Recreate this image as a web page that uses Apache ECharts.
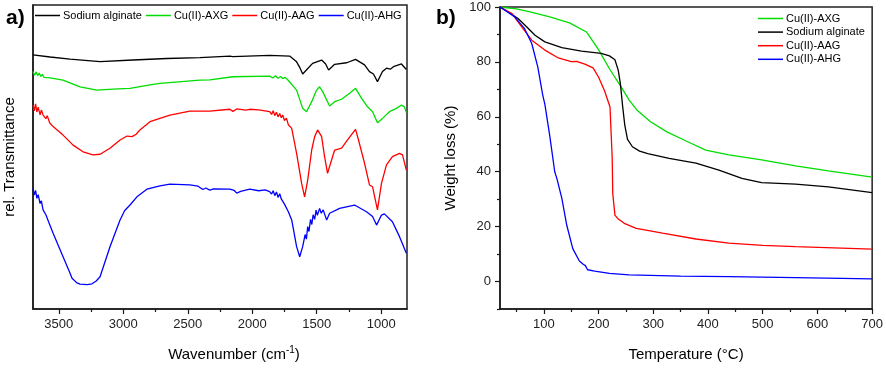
<!DOCTYPE html>
<html>
<head>
<meta charset="utf-8">
<script src="https://cdn.jsdelivr.net/npm/echarts@6/dist/echarts.min.js"></script>
<style>
  html, body { margin: 0; padding: 0; background: #fff; }
  #main { width: 886px; height: 369px; }
</style>
</head>
<body>
<div id="main"></div>
<script>
// series names
var nameAlg = 'Sodium alginate';
var nameAXG = 'Cu(II)-AXG';
var nameAAG = 'Cu(II)-AAG';
var nameAHG = 'Cu(II)-AHG';

// a) FTIR, [wavenumber cm-1, rel. transmittance (a.u.)]
var ftirAlginate = [
  [3700, 83.6], [3567, 82.9], [3413, 82.2], [3180, 81.4], [2925, 81.9], [2662, 82.4],
  [2406, 82.7], [2174, 83.2], [2151, 83.0], [1865, 83.4], [1710, 83.2], [1656, 81.3],
  [1632, 79.5], [1609, 77.3], [1580, 78.6], [1532, 80.8], [1462, 81.9], [1431, 80.6],
  [1408, 78.6], [1361, 80.5], [1268, 81.0], [1199, 82.1], [1129, 80.3], [1091, 78.1],
  [1060, 77.3], [1029, 74.8], [990, 78.1], [959, 79.2], [930, 78.9], [905, 79.7],
  [843, 80.6], [805, 78.8]
];
var ftirAXG = [
  [3700, 78.1], [3688, 76.9], [3676, 78.0], [3664, 76.8], [3652, 77.6], [3640, 76.5],
  [3628, 77.2], [3615, 76.2], [3600, 76.6], [3567, 76.0], [3467, 75.3], [3335, 73.1],
  [3204, 72.0], [3080, 72.3], [2948, 72.6], [2793, 73.7], [2716, 74.2], [2406, 75.3],
  [2329, 75.4], [2151, 76.4], [1865, 76.6], [1840, 76.0], [1820, 76.7], [1800, 75.9],
  [1780, 76.5], [1764, 75.8], [1745, 76.2], [1725, 75.4], [1710, 75.6], [1656, 72.0],
  [1609, 66.0], [1579, 64.9], [1539, 68.2], [1501, 72.0], [1478, 73.1], [1454, 71.5],
  [1400, 66.8], [1361, 68.2], [1307, 69.0], [1245, 71.0], [1199, 72.6], [1152, 69.3],
  [1106, 66.5], [1067, 64.9], [1029, 61.3], [990, 62.7], [936, 64.9], [882, 66.0],
  [843, 67.1], [820, 66.5], [805, 64.6]
];
var ftirAAG = [
  [3700, 67.1], [3690, 65.2], [3680, 67.5], [3670, 64.8], [3660, 66.4], [3645, 63.9],
  [3635, 65.5], [3622, 63.8], [3600, 62.6], [3590, 63.6], [3570, 61.2], [3544, 60.0],
  [3467, 57.2], [3389, 53.9], [3312, 51.7], [3235, 50.7], [3180, 50.9], [3103, 52.9],
  [3025, 55.6], [2971, 56.9], [2932, 56.7], [2900, 57.5], [2871, 58.9], [2793, 61.6],
  [2716, 62.7], [2638, 63.8], [2484, 65.1], [2329, 65.1], [2174, 65.7], [2150, 65.0],
  [2120, 65.8], [2050, 65.4], [2019, 65.7], [1950, 65.5], [1865, 64.9], [1850, 64.0],
  [1838, 65.2], [1825, 63.6], [1812, 64.7], [1800, 63.2], [1787, 64.3], [1775, 62.9],
  [1764, 63.8], [1750, 62.0], [1735, 62.8], [1720, 60.6], [1694, 59.4], [1656, 51.2],
  [1617, 41.3], [1594, 36.9], [1570, 42.4], [1539, 52.3], [1516, 56.7], [1493, 58.9],
  [1462, 56.7], [1439, 50.1], [1416, 44.6], [1385, 49.0], [1361, 52.3], [1307, 52.9],
  [1261, 55.6], [1199, 59.1], [1176, 55.6], [1129, 47.9], [1091, 40.8], [1067, 40.2],
  [1029, 32.6], [998, 41.3], [959, 47.4], [913, 50.1], [858, 51.2], [835, 50.7],
  [805, 45.7]
];
var ftirAHG = [
  [3700, 39.7], [3690, 37.5], [3680, 39.0], [3670, 36.4], [3660, 37.6], [3645, 34.7],
  [3635, 35.6], [3622, 32.6], [3600, 31.0], [3580, 28.8], [3544, 24.9], [3467, 17.2],
  [3420, 12.5], [3397, 10.1], [3360, 8.6], [3335, 8.2], [3280, 8.0], [3242, 8.3],
  [3210, 9.2], [3180, 10.6], [3103, 20.5], [3025, 29.3], [2990, 32.3], [2948, 34.2],
  [2894, 36.9], [2817, 39.4], [2716, 40.5], [2638, 41.1], [2484, 40.8],
  [2420, 40.4], [2383, 39.3], [2360, 39.8], [2329, 39.1], [2300, 39.5], [2174, 39.4],
  [2140, 39.0], [2120, 38.1], [2090, 38.7], [2019, 39.4], [1950, 38.9], [1900, 39.2],
  [1865, 38.6], [1850, 37.8], [1838, 38.9], [1825, 37.3], [1812, 38.5], [1800, 36.7],
  [1787, 37.9], [1775, 36.2], [1764, 35.9], [1750, 34.5], [1735, 35.1], [1720, 32.0],
  [1694, 29.3], [1656, 20.5], [1632, 17.2], [1609, 20.5], [1590, 24.5], [1580, 23.0],
  [1570, 27.1], [1560, 25.5], [1548, 29.5], [1538, 27.8], [1528, 31.0], [1516, 29.5],
  [1505, 32.5], [1495, 30.8], [1478, 33.1], [1465, 31.5], [1450, 32.6], [1423, 29.3],
  [1400, 31.5], [1385, 32.0], [1323, 33.1], [1207, 34.2], [1114, 32.0], [1067, 30.4],
  [1036, 27.6], [998, 30.9], [975, 31.3], [913, 28.7], [858, 23.8], [805, 18.3]
];

// b) TGA, [temperature °C, weight %]
var tgaAXG = [
  [20, 100], [50, 99.3], [75, 98.2], [111, 96.4], [147, 94.2], [178, 90.9], [200, 84.5],
  [220, 77.5], [241, 71.0], [256, 66.1], [270, 62.5], [295, 58.2], [325, 54.5],
  [360, 51.2], [396, 47.9], [438, 46.1], [498, 44.3], [560, 42.1], [620, 40.3], [700, 38.0]
];
var tgaAlginate = [
  [20, 100], [35, 98.2], [53, 95.8], [69, 92.7], [84, 89.7], [102, 87.3], [133, 85.2],
  [169, 83.9], [205, 83.1], [220, 82.2], [230, 80.8], [236, 77.0], [240, 72.0],
  [244, 64.0], [248, 57.0], [253, 51.8], [262, 49.1], [275, 47.5], [290, 46.6],
  [329, 44.9], [378, 43.1], [420, 40.6], [462, 37.6], [498, 36.0], [560, 35.5],
  [620, 34.5], [700, 32.4]
];
var tgaAAG = [
  [20, 100], [42, 97.6], [60, 92.7], [78, 87.9], [102, 84.3], [125, 81.6], [150, 80.1],
  [160, 80.2], [175, 79.2], [190, 77.8], [200, 74.5], [211, 69.5], [221, 63.6],
  [224, 63.0], [225, 45.0], [226, 32.1], [229, 31.5], [230, 24.2], [235, 23.0],
  [247, 21.2], [269, 19.4], [317, 17.6], [378, 15.5], [438, 14.0], [500, 13.2],
  [560, 12.7], [700, 11.8]
];
var tgaAHG = [
  [20, 100], [47, 96.4], [65, 92.1], [78, 86.7], [89, 78.2], [98, 68.0], [102, 64.5],
  [111, 53.0], [120, 40.0], [124, 37.5], [133, 30.3], [142, 20.5], [153, 12.0],
  [165, 7.5], [172, 6.3], [176, 5.8], [180, 4.3], [193, 3.8], [220, 3.0], [256, 2.4],
  [350, 2.0], [438, 1.8], [560, 1.4], [700, 1.0]
];

// tick values
var wnLabels = [3500, 3000, 2500, 2000, 1500, 1000];
var wnMinor = [3250, 2750, 2250, 1750, 1250];
var tempLabels = [100, 200, 300, 400, 500, 600, 700];
var tempMinor = [50, 150, 250, 350, 450, 550, 650];
var wlLabels = [0, 20, 40, 60, 80, 100];
var wlMinor = [-10, 10, 30, 50, 70, 90];

var colorMap = {};
colorMap[nameAlg] = '#000000';
colorMap[nameAXG] = '#00dd00';
colorMap[nameAAG] = '#ff0000';
colorMap[nameAHG] = '#0000ff';

var fontFamily = '"Liberation Sans", Arial, sans-serif';
var axisColor = '#1a1a1a';

function lineSeries(name, data, xi, yi) {
  return {
    name: name,
    type: 'line',
    data: data,
    xAxisIndex: xi,
    yAxisIndex: yi,
    symbol: 'none',
    showSymbol: false,
    smooth: false,
    lineStyle: { color: colorMap[name], width: 1.3 },
    itemStyle: { color: colorMap[name] }
  };
}

function plain(v) {
  return String(v);
}

var legendText = { fontSize: 11, color: '#000', fontFamily: fontFamily, padding: [0, 0, 0, -2] };

var myChart = echarts.init(document.getElementById('main'), null, {
  renderer: 'canvas'
});

var option = {
  animation: false,
  backgroundColor: '#ffffff',
  textStyle: { fontFamily: fontFamily },
  title: [
    { text: 'a)', left: 1, top: 3, textStyle: { fontSize: 21, fontWeight: 'bold', color: '#000', fontFamily: fontFamily } },
    { text: 'b)', left: 431, top: 3, textStyle: { fontSize: 21, fontWeight: 'bold', color: '#000', fontFamily: fontFamily } }
  ],
  legend: [
    {
      data: [nameAlg, nameAXG, nameAAG, nameAHG],
      left: 35, top: 10, padding: 0,
      orient: 'horizontal',
      icon: 'rect',
      itemWidth: 25, itemHeight: 1.5, itemGap: 4,
      textStyle: legendText
    },
    {
      data: [nameAXG, nameAlg, nameAAG, nameAHG],
      left: 758, top: 13, padding: 0,
      orient: 'vertical',
      icon: 'rect',
      itemWidth: 25, itemHeight: 1.5, itemGap: 2.6,
      textStyle: legendText
    }
  ],
  grid: [
    { left: 33, top: 5, width: 374, height: 304, show: true, borderColor: '#222', borderWidth: 1.5, containLabel: false },
    { left: 500, top: 7, width: 374, height: 302, show: true, borderColor: '#222', borderWidth: 1.5, containLabel: false }
  ],
  xAxis: [
    {
      gridIndex: 0, type: 'value', inverse: true, min: 800, max: 3700, position: 'bottom',
      name: 'Wavenumber (cm{sup|-1})', nameLocation: 'middle', nameGap: 36,
      nameTextStyle: {
        fontSize: 15, color: '#000', fontFamily: fontFamily, padding: [0, 0, 0, 28],
        rich: { sup: { fontSize: 10, verticalAlign: 'top', padding: [0, 0, 10, 0], fontFamily: fontFamily, color: '#000' } }
      },
      splitLine: { show: false },
      axisLine: { show: true, onZero: false, lineStyle: { color: axisColor, width: 1.5 } },
      axisTick: { show: true, inside: false, length: 5, customValues: wnLabels, lineStyle: { color: axisColor, width: 1.2 } },
      axisLabel: { show: true, customValues: wnLabels, formatter: plain, margin: 9, fontSize: 13, color: '#222', fontFamily: fontFamily }
    },
    {
      gridIndex: 0, type: 'value', inverse: true, min: 800, max: 3700, position: 'bottom', offset: 0,
      splitLine: { show: false },
      axisLine: { show: false, onZero: false },
      axisTick: { show: true, inside: false, length: 3, customValues: wnMinor, lineStyle: { color: axisColor, width: 1.2 } },
      axisLabel: { show: false }
    },
    {
      gridIndex: 1, type: 'value', min: 20, max: 700, position: 'bottom',
      name: 'Temperature (°C)', nameLocation: 'middle', nameGap: 38,
      nameTextStyle: { fontSize: 15, color: '#000', fontFamily: fontFamily },
      splitLine: { show: false },
      axisLine: { show: true, onZero: false, lineStyle: { color: axisColor, width: 1.5 } },
      axisTick: { show: true, inside: false, length: 5, customValues: tempLabels, lineStyle: { color: axisColor, width: 1.2 } },
      axisLabel: { show: true, customValues: tempLabels, formatter: plain, margin: 9, fontSize: 13, color: '#222', fontFamily: fontFamily }
    },
    {
      gridIndex: 1, type: 'value', min: 20, max: 700, position: 'bottom', offset: 0,
      splitLine: { show: false },
      axisLine: { show: false, onZero: false },
      axisTick: { show: true, inside: false, length: 3, customValues: tempMinor, lineStyle: { color: axisColor, width: 1.2 } },
      axisLabel: { show: false }
    }
  ],
  yAxis: [
    {
      gridIndex: 0, type: 'value', min: 0, max: 100,
      name: 'rel. Transmittance', nameLocation: 'middle', nameGap: 16,
      nameTextStyle: { fontSize: 15, color: '#000', fontFamily: fontFamily },
      splitLine: { show: false },
      axisLine: { show: true, onZero: false, lineStyle: { color: axisColor, width: 1.5 } },
      axisTick: { show: false },
      axisLabel: { show: false }
    },
    {
      gridIndex: 1, type: 'value', min: -10, max: 100, position: 'left',
      name: 'Weight loss (%)', nameLocation: 'middle', nameGap: 42,
      nameTextStyle: { fontSize: 15, color: '#000', fontFamily: fontFamily },
      splitLine: { show: false },
      axisLine: { show: true, onZero: false, lineStyle: { color: axisColor, width: 1.5 } },
      axisTick: { show: true, inside: false, length: 5, customValues: wlLabels, lineStyle: { color: axisColor, width: 1.2 } },
      axisLabel: { show: true, customValues: wlLabels, formatter: plain, margin: 9, fontSize: 13, color: '#222', fontFamily: fontFamily }
    },
    {
      gridIndex: 1, type: 'value', min: -10, max: 100, position: 'left', offset: 0,
      splitLine: { show: false },
      axisLine: { show: false, onZero: false },
      axisTick: { show: true, inside: false, length: 3, customValues: wlMinor, lineStyle: { color: axisColor, width: 1.2 } },
      axisLabel: { show: false }
    }
  ],
  series: [
    lineSeries(nameAlg, ftirAlginate, 0, 0),
    lineSeries(nameAXG, ftirAXG, 0, 0),
    lineSeries(nameAAG, ftirAAG, 0, 0),
    lineSeries(nameAHG, ftirAHG, 0, 0),
    lineSeries(nameAXG, tgaAXG, 2, 1),
    lineSeries(nameAlg, tgaAlginate, 2, 1),
    lineSeries(nameAAG, tgaAAG, 2, 1),
    lineSeries(nameAHG, tgaAHG, 2, 1)
  ]
};

myChart.setOption(option);
window.addEventListener('resize', myChart.resize);
</script>
</body>
</html>
